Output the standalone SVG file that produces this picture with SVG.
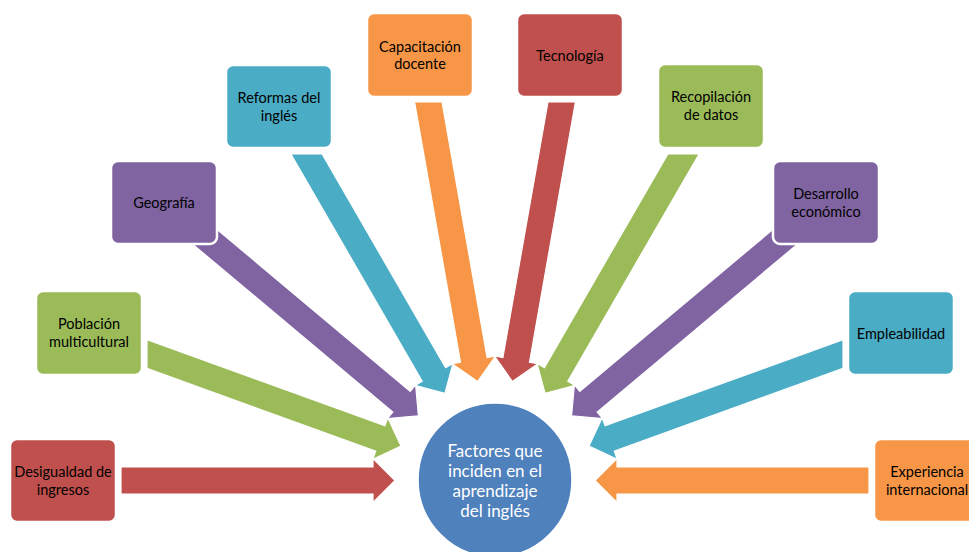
<svg xmlns="http://www.w3.org/2000/svg" width="969" height="552" viewBox="0 0 969 552">
  <style>
    .arrow { stroke: #FFFFFF; stroke-width: 1.2; stroke-linejoin: miter; }
    .box { stroke: #FFFFFF; stroke-width: 2.5; }
    .lbl { font-family: Lato, "Liberation Sans", sans-serif; font-size: 14.5px; fill: #000000; text-anchor: middle; }
    .hub { font-family: Lato, "Liberation Sans", sans-serif; font-size: 17px; fill: #FFFFFF; text-anchor: middle; }
    .red { fill: #C0504D; }
    .green { fill: #9BBB59; }
    .purple { fill: #8064A2; }
    .blue { fill: #4BACC6; }
    .orange { fill: #F79646; }
  </style>
  <rect width="969" height="552" fill="#FFFFFF"/>

  <!-- block arrows, drawn clockwise so each later head overlaps the previous -->
  <g id="connectors">
    <polygon class="arrow red" points="121,467 373,467 373,458.5 395,480.5 373,502.5 373,494 121,494"/>
    <polygon class="arrow green" points="147,339.7 384.9,425.8 387.8,417.8 401,446 372.8,459.2 375.7,451.2 147,368.4"/>
    <polygon class="arrow purple" points="172.7,192.2 410.2,391.3 415.6,384.8 418.4,415.8 387.4,418.5 392.8,412 155.3,212.9"/>
    <polygon class="arrow blue" points="322.1,154 445.6,367.6 453,363.4 444.9,393.4 414.9,385.4 422.2,381.2 290.9,154"/>
    <polygon class="arrow orange" points="442,102 487.1,357.5 495.5,356 477.6,381.5 452.1,363.7 460.5,362.2 414.6,102"/>
    <polygon class="arrow red" points="548,102 502.9,357.5 494.5,356 512.4,381.5 537.9,363.7 529.5,362.2 575.4,102"/>
    <polygon class="arrow green" points="667.9,154 544.4,367.6 537,363.4 545.1,393.4 575.1,385.4 567.8,381.2 699.1,154"/>
    <polygon class="arrow purple" points="817.3,192.2 579.8,391.3 574.4,384.8 571.6,415.8 602.6,418.5 597.2,412 834.7,212.9"/>
    <polygon class="arrow blue" points="843,339.7 605.1,425.8 602.2,417.8 589,446 617.2,459.2 614.3,451.2 843,368.4"/>
    <polygon class="arrow orange" points="869,467 617,467 617,458.5 595,480.5 617,502.5 617,494 869,494"/>
  </g>

  <g id="hub">
    <circle cx="495" cy="480" r="77" fill="#4F81BD" stroke="#FFFFFF" stroke-width="1.5"/>
    <text class="hub" x="495" y="457">Factores que</text>
    <text class="hub" x="495" y="477">inciden en el</text>
    <text class="hub" x="495" y="497">aprendizaje</text>
    <text class="hub" x="495" y="517">del inglés</text>
  </g>

  <g id="desigualdad">
    <rect class="box red" x="10" y="439" width="106" height="83" rx="7"/>
    <text class="lbl" x="63" y="476.5">Desigualdad de</text>
    <text class="lbl" x="63" y="494.5">ingresos</text>
  </g>
  <g id="poblacion">
    <rect class="box green" x="36" y="291" width="106" height="84" rx="7"/>
    <text class="lbl" x="89" y="329">Población</text>
    <text class="lbl" x="89" y="347">multicultural</text>
  </g>
  <g id="geografia">
    <rect class="box purple" x="111" y="161" width="106" height="83" rx="7"/>
    <text class="lbl" x="164" y="208">Geografía</text>
  </g>
  <g id="reformas">
    <rect class="box blue" x="226" y="65" width="106" height="83" rx="7"/>
    <text class="lbl" x="279" y="102.5">Reformas del</text>
    <text class="lbl" x="279" y="120.5">inglés</text>
  </g>
  <g id="capacitacion">
    <rect class="box orange" x="367" y="13" width="106" height="84" rx="7"/>
    <text class="lbl" x="420" y="51.5">Capacitación</text>
    <text class="lbl" x="420" y="69">docente</text>
  </g>
  <g id="tecnologia">
    <rect class="box red" x="517" y="13" width="106" height="84" rx="7"/>
    <text class="lbl" x="570" y="60.5">Tecnología</text>
  </g>
  <g id="recopilacion">
    <rect class="box green" x="658" y="64" width="106" height="84" rx="7"/>
    <text class="lbl" x="711" y="102">Recopilación</text>
    <text class="lbl" x="711" y="120">de datos</text>
  </g>
  <g id="desarrollo">
    <rect class="box purple" x="773" y="161" width="106" height="83" rx="7"/>
    <text class="lbl" x="826" y="198.5">Desarrollo</text>
    <text class="lbl" x="826" y="216.5">económico</text>
  </g>
  <g id="empleabilidad">
    <rect class="box blue" x="848" y="291" width="106" height="84" rx="7"/>
    <text class="lbl" x="901" y="338.5">Empleabilidad</text>
  </g>
  <g id="experiencia">
    <rect class="box orange" x="874" y="439" width="106" height="83" rx="7"/>
    <text class="lbl" x="927" y="476.5">Experiencia</text>
    <text class="lbl" x="927" y="494.5">internacional</text>
  </g>
</svg>
